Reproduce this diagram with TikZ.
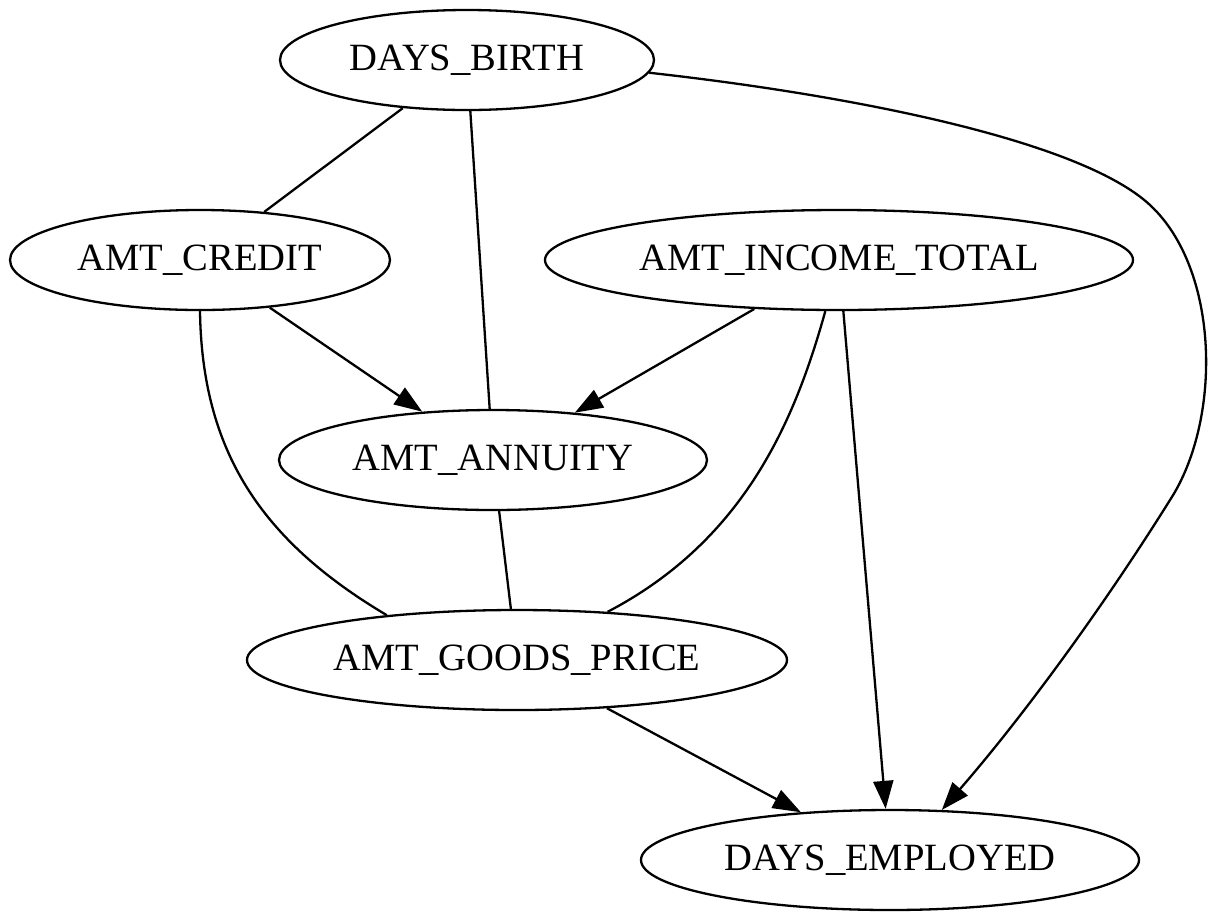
\documentclass[tikz,border=0pt]{standalone}
\usepackage{fontspec}
\setmainfont{Liberation Serif}
\usetikzlibrary{shapes.geometric,arrows.meta}
\begin{document}
\begin{tikzpicture}[x=1pt,y=-1pt,
  gnode/.style={draw,ellipse,line width=2.3pt,inner sep=0pt,font=\fontsize{38.6}{40}\selectfont},
  edge/.style={line width=2.3pt},
  arr/.style={line width=2.3pt,-{Triangle[length=28pt,width=20pt]}}]
\useasboundingbox (0,0) rectangle (1219,922);
\node[gnode,minimum width=374pt,minimum height=100pt] (birth) at (467,60) {DAYS\_BIRTH};
\node[gnode,minimum width=380pt,minimum height=100pt] (credit) at (200,260) {AMT\_CREDIT};
\node[gnode,minimum width=588pt,minimum height=100pt] (income) at (839,260) {AMT\_INCOME\_TOTAL};
\node[gnode,minimum width=428pt,minimum height=100pt] (annuity) at (493,460) {AMT\_ANNUITY};
\node[gnode,minimum width=540pt,minimum height=100pt] (goods) at (517,660) {AMT\_GOODS\_PRICE};
\node[gnode,minimum width=498pt,minimum height=100pt] (employed) at (890,860) {DAYS\_EMPLOYED};

\draw[edge] (birth) -- (credit);
\draw[edge] (birth) -- (annuity);
\draw[arr] (birth.-4.6) .. controls (850,95) and (1080,140) .. (1150,205)
  .. controls (1220,270) and (1222,420) .. (1170,500)
  .. controls (1100,612) and (1020,720) .. (employed.44);
\draw[arr] (credit) -- (annuity);
\draw[arr] (income) -- (annuity);
\draw[edge] (income.255) .. controls (795,420) and (745,540) .. (goods.28.6);
\draw[arr] (income) -- (employed);
\draw[edge] (credit.south) .. controls (202,450) and (260,540) .. (goods.161);
\draw[edge] (annuity) -- (goods);
\draw[arr] (goods) -- (employed);
\end{tikzpicture}
\end{document}
